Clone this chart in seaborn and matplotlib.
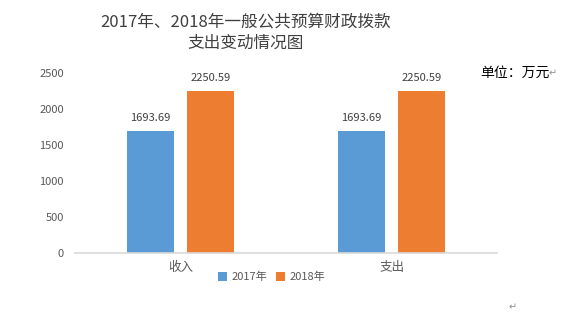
import matplotlib
matplotlib.use("Agg")
import matplotlib.pyplot as plt
import seaborn as sns
import pandas as pd
from matplotlib.patches import Patch

categories = ["收入", "支出"]
years = ["2017年", "2018年"]
values_2017 = [1693.69, 1693.69]
values_2018 = [2250.59, 2250.59]
y_ticks = [0, 500, 1000, 1500, 2000, 2500]

df = pd.DataFrame({
    "类别": categories * 2,
    "年份": [years[0]] * len(categories) + [years[1]] * len(categories),
    "金额": values_2017 + values_2018,
})

sns.set_theme(style="white")
plt.rcParams["font.family"] = ["Noto Sans CJK SC", "DejaVu Sans"]

fig = plt.figure(figsize=(5.78, 3.23), dpi=100)
ax = fig.add_axes([0.1298, 0.2167, 0.7302, 0.5573])

palette = {years[0]: "#5B9BD5", years[1]: "#ED7D31"}
sns.barplot(data=df, x="类别", y="金额", hue="年份", order=categories,
            hue_order=years, palette=palette, width=0.573, gap=0.22,
            saturation=1, linewidth=0, ax=ax, legend=False)

for cont in ax.containers:
    ax.bar_label(cont, fmt="%.2f", padding=6, fontsize=8, color="#404040")

ax.set_ylim(0, 2500)
ax.set_yticks(y_ticks)
ax.set_xlim(-0.5, 1.5)
ax.tick_params(axis="y", labelsize=8, labelcolor="#595959", length=0, pad=8)
ax.tick_params(axis="x", labelsize=9, labelcolor="#595959", length=0, pad=6)
ax.set_xlabel("")
ax.set_ylabel("")
for side in ["top", "right", "left"]:
    ax.spines[side].set_visible(False)
ax.spines["bottom"].set_color("#D9D9D9")
ax.spines["bottom"].set_linewidth(1.2)
ax.grid(False)

# legend below the axis
handles = [Patch(facecolor=palette[y], edgecolor="none") for y in years]
fig.legend(handles, years, loc="center", bbox_to_anchor=(271.5 / 578, 1 - 277 / 323),
           ncol=2, frameon=False, fontsize=8, handlelength=0.8, handleheight=0.8,
           handletextpad=0.4, columnspacing=0.8, labelcolor="#595959")

fig.text(246 / 578, 1 - 22 / 323, "2017年、2018年一般公共预算财政拨款",
         ha="center", va="center", fontsize=12, color="#404040")
fig.text(246 / 578, 1 - 43 / 323, "支出变动情况图",
         ha="center", va="center", fontsize=12, color="#404040")
fig.text(480 / 578, 1 - 73 / 323, "单位：万元", ha="left", va="center",
         fontsize=10, color="black")
fig.text(549 / 578, 1 - 73 / 323, "↵", ha="left", va="center",
         fontsize=7, color="#909090", family=["DejaVu Sans"])
fig.text(509 / 578, 1 - 307 / 323, "↵", ha="left", va="center",
         fontsize=7, color="#909090", family=["DejaVu Sans"])

fig.savefig("out.png", dpi=100, facecolor="white")
